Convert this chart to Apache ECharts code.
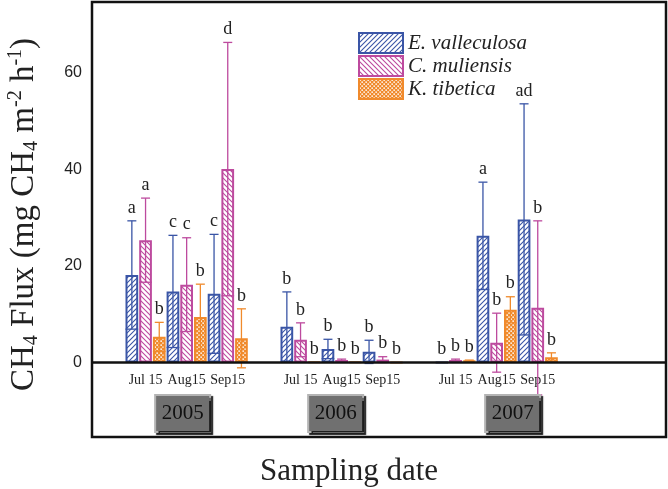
<!DOCTYPE html>
<html><head><meta charset="utf-8">
<script src="https://cdn.jsdelivr.net/npm/echarts@6/dist/echarts.min.js"></script>
<style>html,body{margin:0;padding:0;background:#fff}#c{width:668px;height:489px}</style>
</head><body><div id="c"></div>
<script>
// ---------------- data ----------------
const years = ['2005', '2006', '2007'];
const dates = ['Jul 15', 'Aug15', 'Sep15'];
const speciesNames = ['E. valleculosa', 'C. muliensis', 'K. tibetica'];
// one value per sampling (2005 Jul, Aug, Sep, 2006 Jul, Aug, Sep, 2007 Jul, Aug, Sep)
const eValMean = [18.1, 14.7, 14.2, 7.4, 2.8, 2.2, 0.05, 26.2, 29.6];
const eValSD   = [11.2, 11.6, 12.3, 7.2, 2.0, 2.4, 0, 11.1, 23.9];
const cMulMean = [25.3, 16.1, 40.0, 4.7, 0.5, 0.6, 0.5, 4.1, 11.3];
const cMulSD   = [8.7, 9.7, 26.2, 3.5, 0.2, 0.6, 0.2, 6.1, 18.0];
const kTibMean = [5.3, 9.4, 5.0, 0.15, 0.1, 0.05, 0.4, 10.9, 1.1];
const kTibSD   = [3.0, 6.8, 6.1, 0, 0, 0, 0.1, 2.7, 0.9];
const eValLetters = ['a', 'c', 'c', 'b', 'b', 'b', 'b', 'a', 'ad'];
const cMulLetters = ['a', 'c', 'd', 'b', 'b', 'b', 'b', 'b', 'b'];
const kTibLetters = ['b', 'b', 'b', 'b', 'b', 'b', 'b', 'b', 'b'];
const yTicks = [0, 20, 40, 60];

// ---------------- layout / style ----------------
const W = 668, H = 489;
const GRID = { left: 92, top: 2, right: 2, bottom: 52 };
const PLOT_W = W - GRID.left - GRID.right;
const PLOT_H = H - GRID.top - GRID.bottom;
const SLOT_PX = 13.7;                 // one bar width in px
const X_MAX = PLOT_W / SLOT_PX;
const FIRST = 33 / SLOT_PX;           // offset of first bar from left frame
const YEAR_STEP = 155 / SLOT_PX;      // distance between year blocks
const YEAR_BOX_SHIFT = [-4, -6, 16];  // px shift of year boxes from block centre
const ZERO_PX = 362.5 - GRID.top;     // zero line from top of plot
const PX_PER_UNIT = 4.835;
const Y_MAX = ZERO_PX / PX_PER_UNIT;
const Y_MIN = -(PLOT_H - ZERO_PX) / PX_PER_UNIT;

const COLORS = ['#3a55a6', '#bd4a9e', '#f08a2c'];
const SERIF = '"Liberation Serif", "Times New Roman", serif';
const SANS = '"Liberation Sans", Arial, sans-serif';

function slotX(k, s) {
  const yi = Math.floor(k / 3), d = k % 3;
  return FIRST + yi * YEAR_STEP + d * 3 + s + 0.5;
}
const dateCenters = [];
for (let k = 0; k < 9; k++) dateCenters.push(slotX(k, 1));
const yearCenters = years.map((y, i) => FIRST + i * YEAR_STEP + 4.5 + YEAR_BOX_SHIFT[i] / SLOT_PX);

function makePattern(kind, color) {
  const c = document.createElement('canvas');
  const n = kind === 'dots' ? 4 : 5;
  c.width = c.height = n;
  const g = c.getContext('2d');
  if (kind === 'dots') {
    g.fillStyle = color; g.fillRect(0, 0, n, n);
    g.fillStyle = '#ffffff';
    g.fillRect(0.4, 0.4, 1.5, 1.5);
    g.fillRect(2.4, 2.4, 1.5, 1.5);
  } else {
    g.fillStyle = '#ffffff'; g.fillRect(0, 0, n, n);
    g.strokeStyle = color; g.lineWidth = 1.1;
    g.beginPath();
    if (kind === 'fwd') {
      g.moveTo(-1, n + 1); g.lineTo(n + 1, -1);
      g.moveTo(-1, 1); g.lineTo(1, -1);
      g.moveTo(n - 1, n + 1); g.lineTo(n + 1, n - 1);
    } else {
      g.moveTo(-1, -1); g.lineTo(n + 1, n + 1);
      g.moveTo(n - 1, -1); g.lineTo(n + 1, 1);
      g.moveTo(-1, n - 1); g.lineTo(1, n + 1);
    }
    g.stroke();
  }
  return { image: c, repeat: 'repeat' };
}
const patterns = [makePattern('fwd', COLORS[0]), makePattern('back', COLORS[1]), makePattern('dots', COLORS[2])];

const means = [eValMean, cMulMean, kTibMean];
const sds = [eValSD, cMulSD, kTibSD];
const letters = [eValLetters, cMulLetters, kTibLetters];

const series = [];
for (let s = 0; s < 3; s++) {
  const bar = {
    type: 'bar', name: speciesNames[s], xAxisIndex: 0, yAxisIndex: 0,
    data: means[s].map((m, k) => [slotX(k, s), m]),
    barWidth: SLOT_PX - 1, barGap: '-100%',
    itemStyle: { color: patterns[s], borderColor: COLORS[s], borderWidth: 2 },
    z: 2, silent: true
  };
  if (s === 2) {
    bar.markLine = { silent: true, symbol: ['none', 'none'], label: { show: false },
      lineStyle: { color: '#111', width: 2.5, type: 'solid' }, data: [{ yAxis: 0 }] };
  }
  series.push(bar);
}
for (let s = 0; s < 3; s++) {
  series.push({
    type: 'custom', name: speciesNames[s] + ' err', xAxisIndex: 0, yAxisIndex: 0,
    data: means[s].map((m, k) => [slotX(k, s), m, sds[s][k]]),
    z: 3, silent: true, clip: false,
    renderItem: function (params, api) {
      const x = api.value(0), m = api.value(1), sd = api.value(2);
      const k = params.dataIndex;
      const bw = api.size([1, 0])[0] - 1;
      const top = api.coord([x, m + sd]);
      const bot = api.coord([x, m - sd]);
      const barTop = api.coord([x, m]);
      const st = { stroke: COLORS[s], lineWidth: 1.3 };
      const ch = [];
      if (sd > 0) {
        ch.push({ type: 'line', shape: { x1: top[0], y1: top[1], x2: bot[0], y2: bot[1] }, style: st });
        ch.push({ type: 'line', shape: { x1: top[0] - 4.5, y1: top[1], x2: top[0] + 4.5, y2: top[1] }, style: st });
        const half = (m - sd > 0) ? bw / 2 : 4.5;
        ch.push({ type: 'line', shape: { x1: bot[0] - half, y1: bot[1], x2: bot[0] + half, y2: bot[1] }, style: st });
      }
      const ly = (sd > 0 ? top[1] : Math.min(barTop[1], top[1])) - 4;
      ch.push({ type: 'text', style: { text: letters[s][k], x: top[0], y: ly, align: 'center', verticalAlign: 'bottom',
        fill: '#222', fontSize: 18, fontFamily: SERIF } });
      return { type: 'group', children: ch };
    }
  });
}

const chart = echarts.init(document.getElementById('c'), null, { renderer: 'canvas' });
chart.setOption({
  animation: false,
  backgroundColor: '#fff',
  grid: { left: GRID.left, top: GRID.top, right: GRID.right, bottom: GRID.bottom, show: true,
    containLabel: false, outerBoundsMode: 'none',
    borderColor: '#111', borderWidth: 2.5, backgroundColor: 'transparent' },
  legend: {
    orient: 'vertical', left: 358, top: 32, itemWidth: 44, itemHeight: 20, itemGap: 1, padding: 0,
    icon: 'rect', data: speciesNames,
    textStyle: { fontFamily: SERIF, fontStyle: 'italic', fontSize: 21, color: '#222', lineHeight: 20 }
  },
  xAxis: [
    {
      type: 'value', min: 0, max: X_MAX, position: 'bottom',
      axisLine: { show: false, onZero: false },
      axisTick: { show: false }, splitLine: { show: false },
      axisLabel: {
        inside: true, customValues: dateCenters, margin: 50, fontFamily: SERIF, fontSize: 14, color: '#222',
        formatter: function (v) {
          let best = 0;
          dateCenters.forEach((c, i) => { if (Math.abs(c - v) < Math.abs(dateCenters[best] - v)) best = i; });
          return dates[best % 3];
        }
      },
      name: 'Sampling date', nameLocation: 'middle', nameGap: 19,
      nameTextStyle: { fontFamily: SERIF, fontSize: 31, color: '#222', padding: [0, 60, 0, 0] }
    },
    {
      type: 'value', min: 0, max: X_MAX, position: 'bottom', z: 10,
      axisLine: { show: false, onZero: false }, axisTick: { show: false }, splitLine: { show: false },
      axisLabel: {
        inside: true, margin: 6, customValues: yearCenters,
        formatter: function (v) {
          let best = 0;
          yearCenters.forEach((c, i) => { if (Math.abs(c - v) < Math.abs(yearCenters[best] - v)) best = i; });
          return '{b|' + years[best] + '}';
        },
        rich: { b: { fontFamily: SERIF, fontSize: 21, color: '#111', backgroundColor: '#707070',
          borderColor: '#b4b4b4', borderWidth: 2, width: 53, height: 35, lineHeight: 35, align: 'center',
          shadowColor: 'rgba(20,20,20,0.95)', shadowOffsetX: 2, shadowOffsetY: 2, shadowBlur: 1 } }
      }
    }
  ],
  yAxis: {
    type: 'value', min: Y_MIN, max: Y_MAX,
    axisLine: { show: false }, axisTick: { show: false }, splitLine: { show: false },
    axisLabel: { customValues: yTicks, fontFamily: SANS, fontSize: 16, color: '#222', margin: 10 },
    name: '{m|CH}{s|4}{m| Flux (mg CH}{s|4}{m| m}{p|-2}{m| h}{p|-1}{m|)}',
    nameLocation: 'middle', nameGap: 50, nameRotate: 90,
    nameTextStyle: {
      padding: [0, 0, 0, 10],
      rich: {
        m: { fontFamily: SERIF, fontSize: 33, color: '#222', lineHeight: 36, verticalAlign: 'middle' },
        s: { fontFamily: SERIF, fontSize: 20, color: '#222', lineHeight: 36, verticalAlign: 'bottom' },
        p: { fontFamily: SERIF, fontSize: 20, color: '#222', lineHeight: 36, verticalAlign: 'top' }
      }
    }
  },
  series: series
});
</script>
</body></html>
